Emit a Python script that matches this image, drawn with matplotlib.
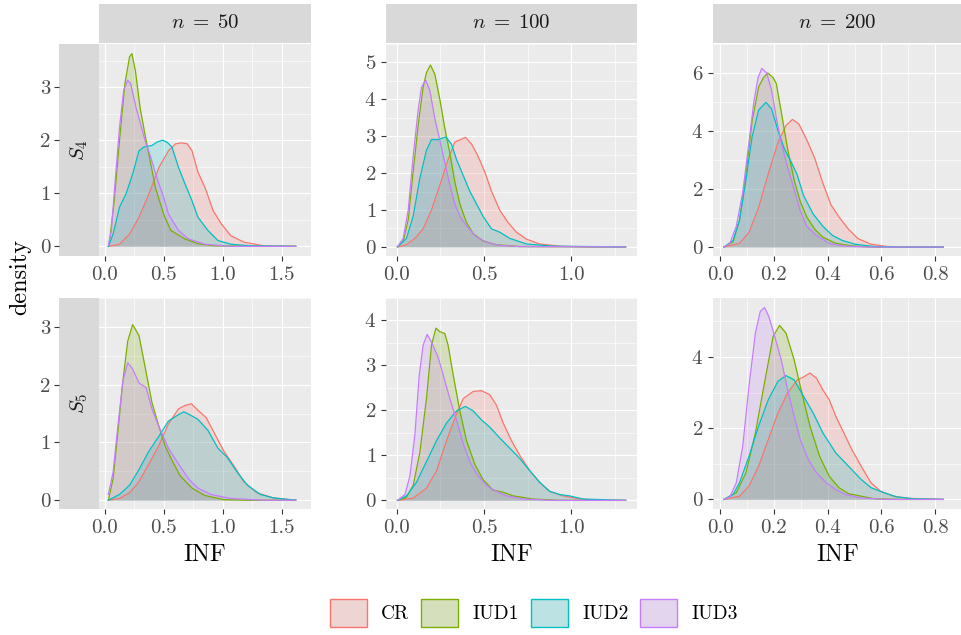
import matplotlib
matplotlib.use("Agg")
import matplotlib.pyplot as plt
from matplotlib.patches import Patch
import numpy as np

# density curves: (INF, density) pairs
s4_n50_cr = [(0.03, 0), (0.125, 0.04), (0.21, 0.23), (0.29, 0.55), (0.375, 0.99), (0.46, 1.49), (0.54, 1.8),
             (0.6, 1.93), (0.65, 1.95), (0.7, 1.93), (0.74, 1.8), (0.79, 1.4), (0.85, 1.11), (0.92, 0.67),
             (0.99, 0.42), (1.07, 0.2), (1.18, 0.08), (1.35, 0.01), (1.62, 0)]
s4_n50_iud1 = [(0.03, 0), (0.04, 0.1), (0.08, 0.86), (0.125, 2.0), (0.17, 3.06), (0.21, 3.57), (0.23, 3.63),
               (0.26, 3.3), (0.3, 2.6), (0.35, 2.0), (0.43, 1.1), (0.5, 0.6), (0.56, 0.3), (0.68, 0.14),
               (0.79, 0.05), (0.93, 0.01), (1.62, 0)]
s4_n50_iud2 = [(0.03, 0), (0.07, 0.23), (0.125, 0.74), (0.18, 0.99), (0.236, 1.36), (0.29, 1.8), (0.33, 1.87),
               (0.4, 1.9), (0.44, 1.96), (0.49, 2.0), (0.53, 1.96), (0.57, 1.87), (0.625, 1.49), (0.68, 1.18),
               (0.74, 0.86), (0.79, 0.55), (0.875, 0.3), (0.96, 0.11), (1.07, 0.04), (1.24, 0.01), (1.62, 0)]
s4_n50_iud3 = [(0.03, 0.02), (0.056, 0.3), (0.083, 1.1), (0.125, 2.25), (0.16, 2.94), (0.194, 3.13),
               (0.22, 3.06), (0.264, 2.62), (0.31, 2.25), (0.35, 1.93), (0.39, 1.68), (0.44, 1.3), (0.5, 0.92),
               (0.54, 0.61), (0.625, 0.3), (0.71, 0.14), (0.85, 0.04), (1.07, 0.0), (1.62, 0)]

s5_n50_cr = [(0.03, 0), (0.125, 0.03), (0.21, 0.13), (0.29, 0.32), (0.375, 0.63), (0.46, 0.95), (0.54, 1.32),
             (0.625, 1.58), (0.68, 1.64), (0.735, 1.67), (0.79, 1.56), (0.86, 1.43), (0.93, 1.16), (1.01, 0.85),
             (1.1, 0.58), (1.18, 0.32), (1.29, 0.13), (1.43, 0.04), (1.62, 0)]
s5_n50_iud1 = [(0.03, 0), (0.07, 0.37), (0.11, 1.16), (0.153, 2.06), (0.194, 2.75), (0.236, 3.04), (0.29, 2.85),
               (0.35, 2.22), (0.4, 1.69), (0.46, 1.27), (0.51, 0.95), (0.57, 0.69), (0.64, 0.42), (0.74, 0.21),
               (0.85, 0.08), (1.01, 0.01), (1.2, 0), (1.62, 0)]
s5_n50_iud2 = [(0.03, 0), (0.125, 0.1), (0.21, 0.26), (0.29, 0.53), (0.375, 0.85), (0.46, 1.11), (0.54, 1.37),
               (0.625, 1.48), (0.67, 1.53), (0.72, 1.48), (0.79, 1.4), (0.875, 1.21), (0.96, 0.9), (1.04, 0.74),
               (1.125, 0.48), (1.21, 0.26), (1.32, 0.1), (1.43, 0.04), (1.62, 0)]
s5_n50_iud3 = [(0.03, 0.1), (0.07, 0.48), (0.11, 1.27), (0.153, 2.06), (0.194, 2.38), (0.236, 2.27),
               (0.29, 2.03), (0.35, 1.95), (0.4, 1.58), (0.46, 1.27), (0.54, 0.9), (0.625, 0.63), (0.71, 0.37),
               (0.79, 0.21), (0.9, 0.1), (1.07, 0.03), (1.35, 0), (1.62, 0)]

s4_n100_cr = [(0.005, 0), (0.057, 0.06), (0.105, 0.23), (0.152, 0.49), (0.2, 1.0), (0.248, 1.68), (0.295, 2.37),
              (0.333, 2.84), (0.362, 2.9), (0.394, 2.97), (0.429, 2.79), (0.467, 2.45), (0.505, 2.03),
              (0.543, 1.51), (0.59, 1.0), (0.638, 0.66), (0.686, 0.4), (0.743, 0.21), (0.819, 0.08),
              (0.933, 0.02), (1.086, 0), (1.31, 0)]
s4_n100_iud1 = [(0.005, 0), (0.038, 0.15), (0.067, 0.74), (0.095, 2.03), (0.124, 3.31), (0.152, 4.33),
                (0.171, 4.72), (0.194, 4.93), (0.219, 4.68), (0.248, 3.99), (0.276, 3.22), (0.305, 2.54),
                (0.333, 1.77), (0.362, 1.17), (0.4, 0.66), (0.438, 0.36), (0.495, 0.16), (0.571, 0.06),
                (0.705, 0.01), (1.31, 0)]
s4_n100_iud2 = [(0.005, 0), (0.057, 0.23), (0.095, 0.83), (0.133, 1.85), (0.171, 2.62), (0.2, 2.91),
                (0.238, 2.91), (0.282, 2.98), (0.314, 2.79), (0.343, 2.37), (0.381, 1.94), (0.419, 1.51),
                (0.457, 1.17), (0.495, 0.83), (0.543, 0.49), (0.59, 0.4), (0.648, 0.23), (0.743, 0.08),
                (0.895, 0.02), (1.31, 0)]
s4_n100_iud3 = [(0.005, 0), (0.038, 0.23), (0.067, 1.0), (0.095, 2.45), (0.124, 3.73), (0.143, 4.33),
                (0.166, 4.52), (0.19, 4.25), (0.219, 3.48), (0.248, 2.88), (0.276, 2.28), (0.305, 1.68),
                (0.333, 1.17), (0.362, 0.83), (0.4, 0.57), (0.457, 0.27), (0.514, 0.13), (0.59, 0.04),
                (0.705, 0.01), (1.31, 0)]

s5_n100_cr = [(0.005, 0), (0.095, 0.05), (0.171, 0.27), (0.229, 0.66), (0.286, 1.33), (0.343, 1.92),
              (0.381, 2.26), (0.438, 2.42), (0.486, 2.44), (0.533, 2.35), (0.571, 2.12), (0.61, 1.72),
              (0.657, 1.33), (0.705, 1.0), (0.762, 0.66), (0.819, 0.4), (0.876, 0.2), (0.952, 0.1),
              (1.048, 0.03), (1.18, 0), (1.31, 0)]
s5_n100_iud1 = [(0.005, 0), (0.057, 0.07), (0.095, 0.33), (0.133, 1.06), (0.171, 2.26), (0.2, 3.45),
                (0.225, 3.83), (0.248, 3.75), (0.276, 3.71), (0.295, 3.45), (0.324, 2.79), (0.362, 1.99),
                (0.4, 1.33), (0.448, 0.8), (0.495, 0.46), (0.552, 0.23), (0.61, 0.18), (0.667, 0.1),
                (0.781, 0.03), (0.933, 0), (1.31, 0)]
s5_n100_iud2 = [(0.005, 0), (0.057, 0.1), (0.114, 0.4), (0.171, 0.86), (0.229, 1.33), (0.286, 1.72),
                (0.343, 1.99), (0.394, 2.09), (0.438, 1.99), (0.486, 1.79), (0.533, 1.63), (0.59, 1.39),
                (0.648, 1.16), (0.705, 0.93), (0.762, 0.66), (0.819, 0.4), (0.876, 0.2), (0.933, 0.13),
                (0.99, 0.1), (1.067, 0.03), (1.31, 0)]
s5_n100_iud3 = [(0.005, 0), (0.048, 0.13), (0.076, 0.53), (0.105, 1.46), (0.13, 2.79), (0.152, 3.45),
                (0.175, 3.69), (0.2, 3.52), (0.238, 3.18), (0.267, 2.79), (0.305, 2.26), (0.343, 1.79),
                (0.381, 1.26), (0.419, 0.86), (0.457, 0.6), (0.514, 0.33), (0.571, 0.2), (0.629, 0.1),
                (0.724, 0.03), (0.895, 0), (1.31, 0)]

s4_n200_cr = [(0.014, 0), (0.072, 0.13), (0.107, 0.5), (0.143, 1.36), (0.179, 2.53), (0.215, 3.6),
              (0.245, 4.19), (0.269, 4.4), (0.293, 4.24), (0.322, 3.7), (0.352, 3.06), (0.382, 2.21),
              (0.412, 1.46), (0.442, 1.04), (0.478, 0.61), (0.513, 0.29), (0.561, 0.1), (0.621, 0.02),
              (0.728, 0), (0.83, 0)]
s4_n200_iud1 = [(0.014, 0), (0.048, 0.18), (0.072, 0.93), (0.096, 2.53), (0.119, 4.35), (0.143, 5.52),
                (0.161, 5.84), (0.177, 6.0), (0.197, 5.84), (0.209, 5.63), (0.227, 4.67), (0.251, 3.38),
                (0.275, 2.32), (0.298, 1.57), (0.322, 1.04), (0.352, 0.61), (0.382, 0.34), (0.43, 0.13),
                (0.49, 0.04), (0.573, 0), (0.83, 0)]
s4_n200_iud2 = [(0.014, 0), (0.048, 0.23), (0.072, 0.93), (0.096, 2.32), (0.119, 3.81), (0.143, 4.72),
                (0.17, 4.99), (0.191, 4.77), (0.215, 4.02), (0.239, 3.38), (0.263, 2.96), (0.287, 2.48),
                (0.31, 1.78), (0.346, 1.14), (0.382, 0.72), (0.418, 0.4), (0.454, 0.23), (0.501, 0.1),
                (0.573, 0.02), (0.669, 0), (0.83, 0)]
s4_n200_iud3 = [(0.014, 0), (0.036, 0.13), (0.06, 0.72), (0.084, 1.89), (0.107, 3.6), (0.125, 4.99),
                (0.141, 5.84), (0.155, 6.16), (0.173, 6.0), (0.191, 5.41), (0.209, 4.45), (0.227, 3.6),
                (0.251, 2.74), (0.275, 2.0), (0.298, 1.25), (0.322, 0.72), (0.358, 0.4), (0.406, 0.13),
                (0.454, 0.04), (0.549, 0), (0.83, 0)]

s5_n200_cr = [(0.014, 0), (0.072, 0.09), (0.107, 0.37), (0.143, 0.93), (0.179, 1.68), (0.215, 2.43),
              (0.251, 2.99), (0.287, 3.36), (0.31, 3.44), (0.334, 3.55), (0.358, 3.41), (0.382, 3.08),
              (0.406, 2.8), (0.43, 2.34), (0.46, 1.87), (0.49, 1.4), (0.525, 0.93), (0.561, 0.47),
              (0.597, 0.23), (0.645, 0.09), (0.704, 0.03), (0.83, 0)]
s5_n200_iud1 = [(0.014, 0), (0.06, 0.19), (0.096, 0.75), (0.131, 1.87), (0.167, 3.36), (0.197, 4.58),
                (0.221, 4.89), (0.245, 4.67), (0.275, 3.93), (0.304, 2.99), (0.334, 2.06), (0.37, 1.21),
                (0.406, 0.65), (0.442, 0.33), (0.478, 0.16), (0.525, 0.09), (0.573, 0.02), (0.669, 0),
                (0.83, 0)]
s5_n200_iud2 = [(0.014, 0), (0.048, 0.14), (0.072, 0.47), (0.107, 1.21), (0.143, 2.06), (0.179, 2.8),
                (0.215, 3.32), (0.245, 3.48), (0.275, 3.36), (0.31, 2.9), (0.346, 2.43), (0.382, 1.87),
                (0.43, 1.31), (0.478, 0.93), (0.525, 0.56), (0.561, 0.33), (0.609, 0.19), (0.657, 0.07),
                (0.716, 0.02), (0.83, 0)]
s5_n200_iud3 = [(0.014, 0), (0.036, 0.07), (0.06, 0.47), (0.084, 1.5), (0.107, 3.18), (0.131, 4.67),
                (0.149, 5.28), (0.165, 5.39), (0.181, 5.14), (0.203, 4.58), (0.227, 3.93), (0.251, 3.08),
                (0.275, 2.34), (0.298, 1.68), (0.328, 1.12), (0.358, 0.75), (0.394, 0.47), (0.43, 0.28),
                (0.466, 0.14), (0.525, 0.04), (0.621, 0), (0.83, 0)]

methods = ["CR", "IUD1", "IUD2", "IUD3"]
colors = ["#F8766D", "#7CAE00", "#00BFC4", "#C77CFF"]
sample_sizes = [50, 100, 200]
scenarios = ["S_4", "S_5"]
x_breaks = [[0.0, 0.5, 1.0, 1.5], [0.0, 0.5, 1.0], [0.0, 0.2, 0.4, 0.6, 0.8]]
y_breaks = [[[0, 1, 2, 3], [0, 1, 2, 3, 4, 5], [0, 2, 4, 6]],
            [[0, 1, 2, 3], [0, 1, 2, 3, 4], [0, 2, 4]]]

curves = {
    (0, 0): [s4_n50_cr, s4_n50_iud1, s4_n50_iud2, s4_n50_iud3],
    (0, 1): [s4_n100_cr, s4_n100_iud1, s4_n100_iud2, s4_n100_iud3],
    (0, 2): [s4_n200_cr, s4_n200_iud1, s4_n200_iud2, s4_n200_iud3],
    (1, 0): [s5_n50_cr, s5_n50_iud1, s5_n50_iud2, s5_n50_iud3],
    (1, 1): [s5_n100_cr, s5_n100_iud1, s5_n100_iud2, s5_n100_iud3],
    (1, 2): [s5_n200_cr, s5_n200_iud1, s5_n200_iud2, s5_n200_iud3],
}

plt.rcParams["font.family"] = "cmr10"
plt.rcParams["mathtext.fontset"] = "cm"
plt.rcParams["axes.formatter.use_mathtext"] = True

W, H = 961, 635
fig = plt.figure(figsize=(W / 100, H / 100), dpi=100)

col_px = [(99, 311), (386, 637), (713, 962)]
row_px = [(44, 256), (298, 509)]
strip_left = 59
strip_h = 40
bg = "#EBEBEB"
strip_bg = "#D9D9D9"
tick_fs = 15


def box(x0, x1, y0, y1):
    return [x0 / W, 1 - y1 / H, (x1 - x0) / W, (y1 - y0) / H]


def expand(lo, hi, f=0.05):
    d = (hi - lo) * f
    return lo - d, hi + d


for r in range(2):
    for c in range(3):
        x0, x1 = col_px[c]
        y0, y1 = row_px[r]
        ax = fig.add_axes(box(x0, x1, y0, y1))
        ax.set_facecolor(bg)
        for s in ax.spines.values():
            s.set_visible(False)
        data = curves[(r, c)]
        xs_all = [p[0] for d in data for p in d]
        ys_all = [p[1] for d in data for p in d]
        ax.set_xlim(*expand(min(xs_all), max(xs_all)))
        ax.set_ylim(*expand(0, max(ys_all)))

        for d, col in zip(data, colors):
            xs = [p[0] for p in d]
            ys = [p[1] for p in d]
            ax.fill_between(xs, 0, ys, color=col, alpha=0.2, linewidth=0, zorder=2)
            ax.plot(xs, ys, color=col, lw=0.9, zorder=3)

        xb = x_breaks[c]
        yb = y_breaks[r][c]
        ax.set_xticks(xb)
        ax.set_xticklabels([f"{v:.1f}" for v in xb])
        ax.set_xticks([(a + b) / 2 for a, b in zip(xb[:-1], xb[1:])] + [xb[-1] + (xb[1] - xb[0]) / 2], minor=True)
        ax.set_yticks(yb)
        ax.set_yticks([(a + b) / 2 for a, b in zip(yb[:-1], yb[1:])] + [yb[-1] + (yb[1] - yb[0]) / 2], minor=True)
        ax.grid(which="major", color="white", lw=0.85, zorder=0)
        ax.grid(which="minor", color="white", lw=0.45, zorder=0)
        ax.set_axisbelow(True)
        ax.tick_params(which="major", length=3.5, width=0.8, color="#333333", labelcolor="#4D4D4D",
                       labelsize=tick_fs, pad=3.5)
        ax.tick_params(which="minor", length=0)
        if r == 1:
            ax.set_xlabel("INF", fontsize=17.5, labelpad=5, color="black")

        if c == 0:
            ax.tick_params(axis="y", which="major", length=0, labelleft=False)
            sax = fig.add_axes(box(strip_left, x0, y0, y1), sharey=ax)
            sax.set_facecolor(strip_bg)
            for s in sax.spines.values():
                s.set_visible(False)
            sax.set_xticks([])
            sax.tick_params(axis="y", which="major", length=3.5, width=0.8, color="#333333",
                            labelcolor="#4D4D4D", labelsize=tick_fs, pad=2.5)
            sax.tick_params(which="minor", length=0)
            sax.set_yticks(yb)
            sax.set_yticklabels([str(v) for v in yb])
            sax.text(0.5, 0.5, "$" + scenarios[r] + "$", transform=sax.transAxes, rotation=90,
                     ha="center", va="center", fontsize=15, color="#1A1A1A")

        if r == 0:
            tax = fig.add_axes(box(x0, x1, y0 - strip_h, y0 - 1))
            tax.set_facecolor(strip_bg)
            for s in tax.spines.values():
                s.set_visible(False)
            tax.set_xticks([])
            tax.set_yticks([])
            tax.text(0.5, 0.5, r"$n\;=\;%d$" % sample_sizes[c], transform=tax.transAxes,
                     ha="center", va="center", fontsize=15, color="#1A1A1A")

fig.text(20 / W, 1 - 277 / H, "density", rotation=90, ha="center", va="center", fontsize=17.5)


def key_color(col, a=0.2):
    rgb = np.array(matplotlib.colors.to_rgb(col))
    base = np.array(matplotlib.colors.to_rgb(bg))
    return tuple(base * (1 - a) + rgb * a)


handles = [Patch(facecolor=key_color(col), edgecolor=col, lw=1.0, label=m) for m, col in zip(methods, colors)]
fig.legend(handles=handles, loc="center", bbox_to_anchor=(534 / W, 1 - 613 / H), ncol=4, frameon=False,
           fontsize=14, handlelength=1.9, handleheight=1.9, handletextpad=0.75, columnspacing=0.6)

fig.savefig("out.png", dpi=100)
